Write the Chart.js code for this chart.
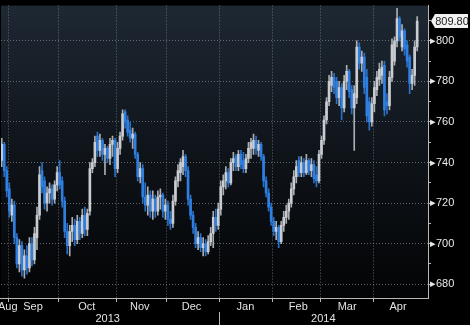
<!DOCTYPE html>
<html>
<head>
<meta charset="utf-8">
<script src="https://cdn.jsdelivr.net/npm/chart.js@4.4.0/dist/chart.umd.min.js"></script>
<style>
  html, body { margin: 0; padding: 0; background: #000; }
  #wrap { width: 470px; height: 325px; }
</style>
</head>
<body>
<div id="wrap"><canvas id="chart" width="470" height="325"></canvas></div>
<script>
// daily OHLC, late Aug 2013 .. late Apr 2014 (one entry per trading day)
const opens = [741,749,736,727,714,719,703,690,699,687,694,688,700,692,703,714,736,731,720,725,
  727,722,729,735,731,721,706,699,706,709,702,711,705,714,707,716,737,740,753,746,
  751,744,747,742,749,751,737,747,753,765,761,756,752,754,744,733,737,723,719,724,
  716,722,716,723,724,716,719,712,710,721,731,735,738,743,736,722,714,708,700,703,
  698,700,696,701,705,713,709,717,728,731,735,730,740,743,738,744,741,737,742,747,
  747,751,746,749,743,731,725,718,711,706,708,701,709,713,716,720,727,733,741,735,
  740,735,741,736,739,734,731,744,751,761,770,778,782,780,772,777,767,780,785,776,
  767,772,797,789,792,782,770,760,769,776,781,783,788,770,768,782,790,800,811,797,
  805,798,792,779,783,797];
const highs = [752,750,738,730,722,721,705,702,701,697,699,703,703,708,718,738,740,733,728,730,
  729,731,738,741,733,723,710,709,713,712,714,713,717,718,717,740,742,753,755,754,
  752,749,748,752,753,752,750,755,766,766,763,760,757,755,745,740,739,730,728,726,
  726,724,726,727,725,722,721,716,724,733,739,742,746,744,738,724,716,710,706,705,
  703,702,704,708,716,717,720,731,734,738,737,742,745,744,746,746,745,744,750,752,
  754,753,751,750,744,733,727,720,713,711,709,711,716,719,722,730,736,741,743,743,
  742,744,742,742,741,738,746,753,763,772,783,785,784,782,780,779,783,788,786,778,
  778,800,799,795,794,786,772,772,780,785,789,790,790,774,785,801,802,816,812,808,
  806,800,793,786,800,812];
const lows = [738,733,723,713,711,700,688,686,684,683,685,686,689,690,697,712,725,717,716,720,
  719,720,726,727,718,703,695,694,701,699,700,702,703,704,704,714,735,738,743,743,
  741,734,740,739,743,733,735,744,751,757,753,750,747,742,731,730,720,716,714,713,
  712,713,714,717,713,712,709,707,708,719,728,731,734,733,719,712,705,698,697,696,
  694,694,695,699,698,706,707,714,724,727,728,729,736,736,736,737,735,735,740,742,
  744,744,743,741,728,723,716,709,704,702,698,700,706,710,712,718,724,730,733,733,
  733,734,734,733,730,728,730,742,749,759,768,775,774,769,768,761,765,776,772,764,
  746,769,786,785,774,760,756,758,765,773,778,779,763,764,766,780,788,797,800,795,
  793,787,774,776,778,795];
const closes = [749,736,726,716,719,703,690,699,687,694,688,700,692,705,714,734,728,720,725,727,
  722,729,735,729,721,706,699,706,709,702,711,705,714,707,715,737,740,750,746,751,
  744,747,742,749,751,737,747,753,764,760,755,752,754,744,733,737,723,719,724,716,
  722,716,723,724,716,719,712,710,721,731,736,740,743,736,722,714,708,700,703,698,
  700,696,701,705,713,709,717,728,731,735,730,740,742,738,744,739,737,742,747,750,
  751,747,749,743,731,725,718,711,706,708,701,709,713,716,720,727,733,738,735,740,
  735,741,736,739,732,731,744,751,761,770,780,782,777,772,777,767,780,785,775,767,
  774,797,789,792,777,763,760,769,777,782,786,787,766,768,782,798,800,811,802,805,
  796,790,779,783,797,809.8];

// axis labels, in day-index units
const monthStarts = [2.5, 22.5, 45.5, 65.5, 86.5, 107.5, 126.5, 147.5];
const monthLabels = ['Aug', 'Sep', 'Oct', 'Nov', 'Dec', 'Jan', 'Feb', 'Mar', 'Apr'];
const monthMids = [2.4, 12.4, 33.8, 54.8, 75.4, 96.8, 117.8, 137.2, 157.4];
const yearLabels = ['2013', '2014'];
const yearMids = [42.1, 127.7];
const yearSplit = 86.5;
const priceTicks = [680, 690, 700, 710, 720, 730, 740, 750, 760, 770, 780, 790, 800, 810];

const UP = '#c9cdd2';
const DOWN = '#2f7fe0';
const GRID = 'rgba(150,160,170,0.6)';
const AXIS = '#b8b8b8';
const FONT = "'Liberation Sans Narrow', 'Liberation Sans', Arial, sans-serif";
const X_MIN = -0.3, X_MAX = 169.3;

const isUp = opens.map((o, i) => closes[i] >= o);

const bgPlugin = {
    id: 'bg',
    beforeDraw(chart) {
        const { ctx, chartArea: a } = chart;
        ctx.save();
        ctx.fillStyle = '#000';
        ctx.fillRect(0, 0, chart.width, chart.height);
        const g = ctx.createLinearGradient(0, a.top, 0, a.bottom);
        g.addColorStop(0, '#1e2833');
        g.addColorStop(0.5, '#0f141a');
        g.addColorStop(1, '#030405');
        ctx.fillStyle = g;
        ctx.fillRect(a.left, a.top, a.right - a.left, a.bottom - a.top);
        ctx.restore();
    }
};

// last price tag on the right axis
const lastPricePlugin = {
    id: 'lastPrice',
    afterDraw(chart) {
        const last = closes[closes.length - 1];
        const y = chart.scales.y.getPixelForValue(last);
        const x = chart.chartArea.right + 3;
        const { ctx } = chart;
        ctx.save();
        ctx.fillStyle = '#f2f2f2';
        ctx.beginPath();
        ctx.moveTo(x, y);
        ctx.lineTo(x + 4, y - 7);
        ctx.lineTo(x + 37, y - 7);
        ctx.lineTo(x + 37, y + 7);
        ctx.lineTo(x + 4, y + 7);
        ctx.closePath();
        ctx.fill();
        ctx.fillStyle = '#222';
        ctx.font = '11px ' + FONT;
        ctx.textBaseline = 'middle';
        ctx.textAlign = 'center';
        ctx.fillText(last.toFixed(2), x + 21, y + 0.5);
        ctx.restore();
    }
};

new Chart(document.getElementById('chart').getContext('2d'), {
    type: 'bar',
    data: {
        datasets: [{
            label: 'body',
            data: opens.map((o, i) => ({ x: i, y: [o, closes[i]] })),
            backgroundColor: isUp.map(u => u ? UP : DOWN),
            barThickness: 2,
            minBarLength: 1,
            grouped: false,
            order: 0
        }, {
            label: 'wick',
            data: lows.map((l, i) => ({ x: i, y: [l, highs[i]] })),
            backgroundColor: isUp.map(u => u ? '#a9aeb3' : '#2a70c8'),
            barThickness: 1,
            grouped: false,
            order: 1
        }]
    },
    options: {
        responsive: false,
        animation: false,
        layout: { padding: 0 },
        plugins: { legend: { display: false }, tooltip: { enabled: false } },
        scales: {
            x: {
                type: 'linear',
                position: 'bottom',
                min: X_MIN,
                max: X_MAX,
                offset: false,
                weight: 0,
                afterBuildTicks: s => { s.ticks = monthStarts.concat(monthMids).sort((a, b) => a - b).map(v => ({ value: v })); },
                afterFit: s => { s.height = 14; },
                grid: {
                    offset: false,
                    color: c => (c.tick && monthStarts.includes(c.tick.value)) ? GRID : 'transparent',
                    tickColor: c => (c.tick && monthStarts.includes(c.tick.value)) ? AXIS : 'transparent',
                    tickLength: 4
                },
                border: { color: AXIS, dash: [1, 2] },
                ticks: {
                    autoSkip: false,
                    maxRotation: 0,
                    padding: -2,
                    color: '#e2e2e2',
                    font: { family: FONT, size: 11 },
                    callback: v => { const k = monthMids.indexOf(v); return k >= 0 ? monthLabels[k] : ''; }
                }
            },
            xYear: {
                type: 'linear',
                position: 'bottom',
                min: X_MIN,
                max: X_MAX,
                offset: false,
                weight: 1,
                afterBuildTicks: s => { s.ticks = [yearMids[0], yearSplit, yearMids[1]].map(v => ({ value: v })); },
                afterFit: s => { s.height = 13; },
                grid: {
                    offset: false,
                    drawOnChartArea: false,
                    tickColor: c => (c.tick && c.tick.value === yearSplit) ? AXIS : 'transparent',
                    tickLength: 13
                },
                border: { display: false },
                ticks: {
                    autoSkip: false,
                    maxRotation: 0,
                    padding: -13,
                    color: '#e2e2e2',
                    font: { family: FONT, size: 11 },
                    callback: v => { const k = yearMids.indexOf(v); return k >= 0 ? yearLabels[k] : ''; }
                }
            },
            y: {
                type: 'linear',
                position: 'right',
                min: 673.2,
                max: 817.4,
                afterBuildTicks: s => { s.ticks = priceTicks.map(v => ({ value: v })); },
                afterFit: s => { s.width = 42; },
                grid: {
                    color: c => (c.tick && c.tick.value % 20 === 0) ? GRID : 'transparent',
                    tickColor: AXIS,
                    tickLength: 3
                },
                border: { color: AXIS, dash: [1, 2] },
                ticks: {
                    padding: -1,
                    color: '#e8e8e8',
                    font: { family: FONT, size: 11 },
                    callback: v => (v % 20 === 0 && v <= 800) ? '\u25B8' + v : ''
                }
            }
        }
    },
    plugins: [bgPlugin, lastPricePlugin]
});
</script>
</body>
</html>
